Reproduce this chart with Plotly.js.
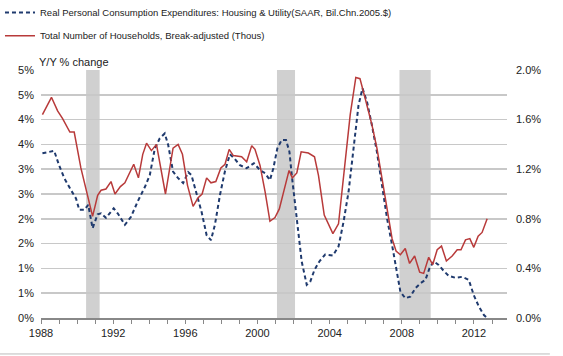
<!DOCTYPE html>
<html>
<head>
<meta charset="utf-8">
<script src="https://cdn.plot.ly/plotly-3.0.1.min.js"></script>
<style>html,body{margin:0;padding:0;background:#fff;}#chart{width:563px;height:356px;}</style>
</head>
<body>
<div id="chart"></div>
<script>
// Real PCE: Housing & Utility, Y/Y % change (left axis)
var pceYears = [1988.08,1988.73,1989.0,1989.29,1989.66,1989.94,1990.12,1990.4,1990.62,1990.86,1991.14,1991.33,1991.6,1992.03,1992.25,1992.65,1992.99,1993.36,1993.77,1994.03,1994.31,1994.58,1994.86,1995.05,1995.32,1995.6,1995.88,1996.16,1996.34,1996.62,1996.9,1997.18,1997.42,1997.64,1997.92,1998.19,1998.47,1998.71,1999.03,1999.4,1999.8,2000.14,2000.42,2000.69,2000.88,2001.1,2001.34,2001.58,2001.77,2001.9,2002.04,2002.27,2002.45,2002.73,2002.92,2003.16,2003.43,2003.75,2004.18,2004.49,2004.77,2005.05,2005.32,2005.6,2005.82,2006.07,2006.34,2006.62,2006.9,2007.18,2007.46,2007.68,2007.92,2008.19,2008.47,2008.75,2009.03,2009.31,2009.53,2009.77,2010.04,2010.32,2010.6,2010.97,2011.34,2011.71,2011.99,2012.27,2012.55,2012.73];
var pceGrowth = [3.32,3.37,3.08,2.82,2.58,2.41,2.18,2.18,2.28,1.81,2.09,2.11,2.02,2.21,2.11,1.88,2.04,2.35,2.65,2.88,3.42,3.62,3.72,3.49,2.95,2.82,2.72,2.94,2.88,2.48,2.14,1.67,1.57,1.88,2.48,2.95,3.30,3.22,3.08,3.02,3.12,2.98,2.92,2.78,3.02,3.42,3.59,3.59,3.35,2.88,2.41,1.67,1.14,0.67,0.73,0.97,1.14,1.28,1.26,1.44,1.94,2.55,3.35,4.29,4.63,4.36,3.89,3.35,2.68,2.01,1.47,1.00,0.53,0.40,0.43,0.60,0.70,0.77,1.00,1.14,1.07,0.95,0.85,0.81,0.83,0.77,0.46,0.23,0.06,0.00];

// Total Number of Households, Y/Y % change (right axis)
var hhYears = [1988.08,1988.58,1988.92,1989.19,1989.6,1989.84,1990.21,1990.86,1991.14,1991.33,1991.6,1991.88,1992.1,1992.4,1992.65,1993.14,1993.4,1993.64,1993.85,1994.12,1994.4,1994.9,1995.32,1995.6,1995.84,1996.12,1996.43,1996.71,1996.93,1997.18,1997.42,1997.69,1997.97,1998.2,1998.43,1998.66,1999.12,1999.4,1999.68,1999.86,2000.14,2000.42,2000.69,2000.97,2001.21,2001.53,2001.75,2001.93,2002.18,2002.42,2002.82,2003.16,2003.38,2003.7,2004.18,2004.49,2004.8,2005.14,2005.45,2005.68,2005.97,2006.34,2006.62,2006.9,2007.18,2007.46,2007.68,2007.92,2008.19,2008.43,2008.71,2008.99,2009.21,2009.49,2009.71,2009.96,2010.2,2010.47,2010.79,2011.07,2011.28,2011.53,2011.77,2011.99,2012.23,2012.45,2012.73];
var hhGrowth = [1.64,1.78,1.67,1.61,1.50,1.50,1.21,0.82,0.99,1.03,1.04,1.10,1.00,1.06,1.09,1.24,1.13,1.32,1.41,1.35,1.40,1.00,1.37,1.40,1.32,1.07,0.90,0.97,1.00,1.13,1.09,1.10,1.21,1.24,1.36,1.31,1.30,1.26,1.39,1.36,1.23,1.02,0.78,0.81,0.88,1.07,1.19,1.13,1.17,1.34,1.33,1.30,1.15,0.83,0.68,0.76,1.18,1.64,1.94,1.93,1.77,1.56,1.37,1.13,0.86,0.64,0.54,0.51,0.56,0.44,0.50,0.37,0.36,0.49,0.43,0.55,0.58,0.46,0.50,0.55,0.55,0.63,0.64,0.57,0.66,0.69,0.80];

// Recession periods (start, end) in decimal years
var recessionStart = [1990.5, 2001.08, 2007.87];
var recessionEnd = [1991.25, 2002.08, 2009.6];

var leftTickVals = [0,0.5,1,1.5,2,2.5,3,3.5,4,4.5,5];
var leftTickText = ["0%","1%","1%","2%","2%","3%","3%","4%","4%","5%","5%"];
var xTickVals = [1988,1992,1996,2000,2004,2008,2012];
var xTickText = ["1988","1992","1996","2000","2004","2008","2012"];

var pceName = "Real Personal Consumption Expenditures: Housing & Utility(SAAR, Bil.Chn.2005.$)";
var hhName = "Total Number of Households, Break-adjusted (Thous)";

var traces = [
  {x: pceYears, y: pceGrowth, type: 'scatter', mode: 'lines', name: pceName,
   line: {color: '#1f3a6e', width: 2, dash: '4px,3px'}, yaxis: 'y', legend: 'legend'},
  {x: hhYears, y: hhGrowth, type: 'scatter', mode: 'lines', name: hhName,
   line: {color: '#b83a3a', width: 1.5}, yaxis: 'y2', legend: 'legend2'}
];

var shapes = [];
for (var i = 0; i < recessionStart.length; i++) {
  shapes.push({type: 'rect', xref: 'x', yref: 'paper', x0: recessionStart[i], x1: recessionEnd[i],
    y0: 0, y1: 1, fillcolor: '#d0d0d0', line: {width: 0}, layer: 'between'});
}
shapes.push({type: 'line', xref: 'paper', yref: 'paper', x0: -0.088, x1: 1.092, y0: -0.145, y1: -0.145,
  line: {color: '#bbbbbb', width: 1}});

var font = {family: 'Liberation Sans, Arial, sans-serif', size: 11, color: '#222'};

var layout = {
  width: 563, height: 356,
  margin: {l: 41, r: 56, t: 70, b: 38, autoexpand: false},
  paper_bgcolor: '#fff', plot_bgcolor: '#fff',
  font: font,
  showlegend: true,
  hovermode: false,
  xaxis: {
    range: [1988, 2013.83], tickmode: 'array', tickvals: xTickVals, ticktext: xTickText,
    ticks: 'outside', ticklen: 4, tickcolor: '#888', tickwidth: 1,
    minor: {tickmode: 'linear', tick0: 1988, dtick: 1, ticks: 'outside', ticklen: 4, tickcolor: '#888', tickwidth: 1, showgrid: false},
    showline: true, linecolor: '#888', linewidth: 1.5, showgrid: false, zeroline: false,
    tickfont: {size: 11, color: '#222'}
  },
  yaxis: {
    range: [0, 5], tickmode: 'array', tickvals: leftTickVals, ticktext: leftTickText,
    showgrid: true, gridcolor: '#c8c8c8', gridwidth: 1.5, zeroline: false, showline: false,
    ticks: '', ticklabelstandoff: 6, tickfont: {size: 11, color: '#222'}
  },
  yaxis2: {
    range: [0, 2], overlaying: 'y', side: 'right', tickmode: 'linear', tick0: 0, dtick: 0.4,
    tickformat: '.1f', ticksuffix: '%', showgrid: false, zeroline: false, showline: false,
    ticks: '', ticklabelstandoff: 8, tickfont: {size: 11, color: '#222'}
  },
  legend: {x: -0.088, y: 1.29, xanchor: 'left', yanchor: 'top', xref: 'paper', yref: 'paper',
    bgcolor: 'rgba(0,0,0,0)', font: {size: 9.5, color: '#222'}, itemwidth: 30},
  legend2: {x: -0.088, y: 1.197, xanchor: 'left', yanchor: 'top', xref: 'paper', yref: 'paper',
    bgcolor: 'rgba(0,0,0,0)', font: {size: 9.5, color: '#222'}, itemwidth: 30},
  shapes: shapes,
  annotations: [{
    text: 'Y/Y % change', xref: 'paper', yref: 'paper', x: -0.008, y: 1, xanchor: 'left', yanchor: 'bottom',
    yshift: 0, showarrow: false, font: {size: 11, color: '#222'}
  }]
};

Plotly.newPlot('chart', traces, layout, {displayModeBar: false, staticPlot: true});
</script>
</body>
</html>
